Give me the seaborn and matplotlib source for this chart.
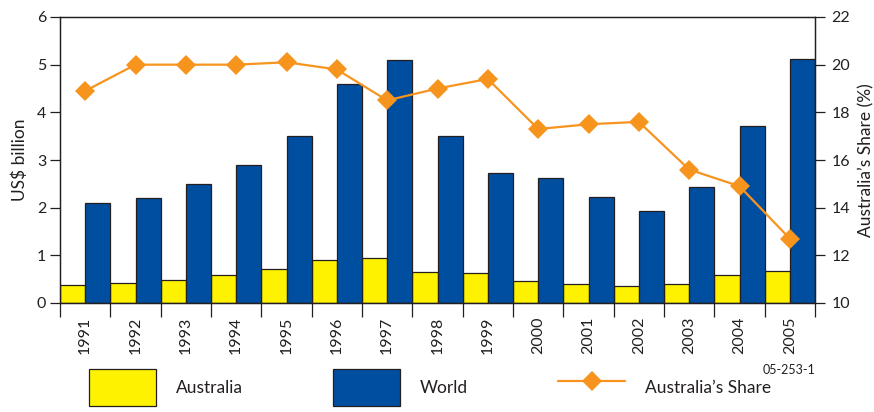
import numpy as np
import pandas as pd
import matplotlib
matplotlib.use("Agg")
import matplotlib.pyplot as plt
from matplotlib.patches import Patch
from matplotlib.lines import Line2D
from matplotlib.ticker import FixedLocator
import seaborn as sns

years = ["1991", "1992", "1993", "1994", "1995", "1996", "1997", "1998",
         "1999", "2000", "2001", "2002", "2003", "2004", "2005"]
australia = [0.38, 0.43, 0.48, 0.58, 0.71, 0.91, 0.95, 0.66,
             0.62, 0.46, 0.40, 0.35, 0.40, 0.58, 0.68]
world = [2.09, 2.20, 2.50, 2.90, 3.50, 4.60, 5.10, 3.50,
         2.72, 2.62, 2.22, 1.93, 2.43, 3.72, 5.12]
share = [18.9, 20.0, 20.0, 20.0, 20.1, 19.8, 18.5, 19.0,
         19.4, 17.3, 17.5, 17.6, 15.6, 14.9, 12.7]

YELLOW = "#FFF200"
BLUE = "#004EA0"
ORANGE = "#F7941E"
INK = "#231F20"

sns.set_style("ticks")
plt.rcParams["font.family"] = ["Lato", "DejaVu Sans"]
plt.rcParams["text.color"] = INK
plt.rcParams["axes.labelcolor"] = INK
plt.rcParams["xtick.color"] = INK
plt.rcParams["ytick.color"] = INK
plt.rcParams["axes.edgecolor"] = INK

bars = pd.DataFrame({
    "year": years * 2,
    "series": ["Australia"] * len(years) + ["World"] * len(years),
    "value": australia + world,
})

fig = plt.figure(figsize=(8.74, 4.12), dpi=100)
ax = fig.add_axes([60 / 874, 1 - 303 / 412, (815 - 60) / 874, (303 - 17) / 412])

sns.barplot(data=bars, x="year", y="value", hue="series",
            hue_order=["Australia", "World"],
            palette={"Australia": YELLOW, "World": BLUE},
            saturation=1, width=1.0, gap=0, edgecolor=INK, linewidth=0.9,
            ax=ax, legend=False)

ax.set_ylim(0, 6)
ax.set_yticks(range(0, 7))
ax.set_xlim(-0.5, len(years) - 0.5)
ax.set_xlabel("")
ax.set_ylabel("US$ billion", fontsize=12.5, labelpad=6)

# year labels centred on each group, tick marks on group boundaries
ax.set_xticks(range(len(years)))
ax.set_xticklabels(years, rotation=90, fontsize=11.5)
ax.tick_params(axis="x", which="major", length=0, pad=10)
ax.xaxis.set_minor_locator(FixedLocator(np.arange(-0.5, len(years), 1.0)))
ax.tick_params(axis="x", which="minor", length=10, width=0.9, direction="out")
ax.tick_params(axis="y", length=7, width=0.9, labelsize=11.5, pad=3)
for s in ax.spines.values():
    s.set_linewidth(0.9)
    s.set_visible(True)

ax2 = ax.twinx()
sns.lineplot(x=np.arange(len(years)), y=share, ax=ax2, color=ORANGE,
             linewidth=1.6, marker="D", markersize=10.5, markeredgewidth=0)
ax2.set_ylim(10, 22)
ax2.set_yticks(range(10, 23, 2))
ax2.set_xlim(-0.5, len(years) - 0.5)
ax2.set_ylabel("Australia\u2019s Share (%)", fontsize=12.5, labelpad=6)
ax2.tick_params(axis="y", length=7, width=0.9, labelsize=11.5, pad=5)
for s in ax2.spines.values():
    s.set_linewidth(0.9)

handles = [
    Patch(facecolor=YELLOW, edgecolor=INK, linewidth=0.9),
    Patch(facecolor=BLUE, edgecolor=INK, linewidth=0.9),
    Line2D([], [], color=ORANGE, linewidth=1.6, marker="D",
           markersize=10.5, markeredgewidth=0),
]
fig.legend(handles, ["Australia", "World", "Australia\u2019s Share"],
           loc="upper left", bbox_to_anchor=(89 / 874, 1 - 369 / 412),
           ncol=3, frameon=False, fontsize=12.5, borderpad=0,
           borderaxespad=0, handlelength=3.85, handleheight=2.9,
           handletextpad=1.15, columnspacing=5.2)

fig.text(815 / 874, 1 - 370 / 412, "05-253-1", ha="right", va="center",
         fontsize=9)

fig.savefig("out.png", dpi=100)
